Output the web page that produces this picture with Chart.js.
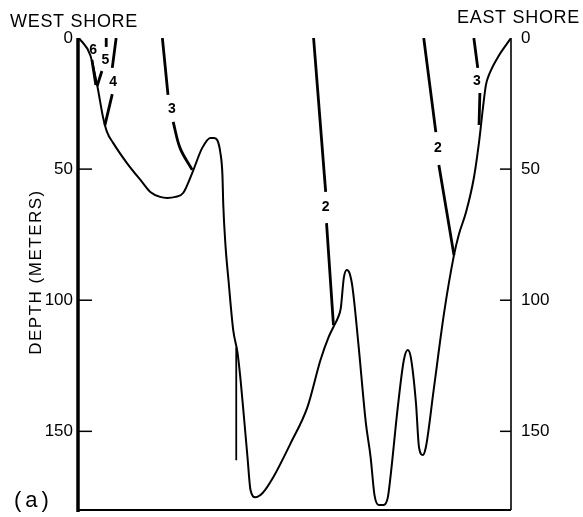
<!DOCTYPE html>
<html>
<head>
<meta charset="utf-8">
<script src="https://cdn.jsdelivr.net/npm/chart.js@4/dist/chart.umd.min.js"></script>
<style>
  body { margin: 0; background: #fff; }
  #wrap { width: 583px; height: 517px; position: relative; }
</style>
</head>
<body>
<div id="wrap"><canvas id="profile"></canvas></div>
<script>
// lake bed profile, distance across lake (0 = west shore, 100 = east shore) vs depth in metres
const bedDistance = [0, 2.6, 4.2, 5.6, 6.5, 7.9, 11.1, 14.8, 16.5, 18.8, 20.4, 22.3, 24.1, 26.2, 28.5, 30.4, 31.3, 32.0, 32.7, 33.2, 33.4, 33.9, 34.6, 35.7, 36.7, 37.4, 38.1, 39.0, 39.7, 40.8, 42.5, 45.0, 49.0, 52.9, 55.9, 57.8, 58.9, 59.9, 60.6, 61.3, 62.0, 62.6, 63.3, 64.7, 66.4, 67.5, 68.4, 69.4, 70.5, 71.5, 72.2, 73.8, 75.2, 76.1, 76.8, 78.0, 78.7, 79.6, 80.3, 82.1, 84.5, 86.8, 87.9, 89.6, 91.4, 92.6, 93.5, 94.2, 94.9, 97.0, 100];
const bedDepth = [0, 6.5, 17.9, 30.5, 35.9, 40.0, 47.7, 55.3, 58.7, 60.6, 61.0, 60.6, 59.1, 51.5, 42.0, 38.1, 38.1, 38.9, 43.5, 52.2, 63.7, 78.9, 92.3, 111.4, 120.1, 130.4, 143.0, 159.8, 172.4, 175.1, 173.5, 167.4, 154.5, 140.7, 122.8, 114.0, 110.2, 106.8, 103.0, 91.5, 88.5, 89.6, 95.0, 117.1, 146.8, 159.8, 174.3, 178.1, 178.1, 175.1, 165.9, 140.7, 122.8, 119.0, 121.7, 139.2, 156.0, 159.0, 156.0, 134.2, 104.9, 82.8, 75.1, 66.4, 53.4, 39.7, 26.7, 17.9, 14.1, 7.2, 0];

// isolines, each split in two pieces around its number: [distance, depth]
const line6 = [[[3.0, 8.4], [3.9, 17.9]]];
const line5 = [[[6.3, 0], [6.3, 3.4]], [[5.3, 12.6], [4.2, 18.3]]];
const line4 = [[[8.6, 0], [7.7, 11.4]], [[7.7, 21.4], [6.0, 33.2]]];
const line3West = [[[19.3, 0], [20.6, 21.7]], [[21.8, 32.0], [23.4, 42.0], [26.2, 50.3]]];
const line2Mid = [[[54.3, 0], [57.1, 58.7]], [[57.3, 70.6], [58.9, 109.5]]];
const line2East = [[[79.8, 0], [82.6, 35.9]], [[83.3, 48.4], [86.8, 82.8]]];
const line3East = [[[91.4, 0], [92.3, 11.4]], [[92.8, 21.0], [92.6, 33.2]]];

const lineLabels = ['6', '5', '4', '3', '2', '2', '3'];
const lineLabelDistance = [3.3, 6.1, 7.9, 21.5, 57.1, 83.1, 92.1];
const lineLabelDepth = [4.8, 8.4, 16.8, 27.3, 64.5, 42.0, 16.6];

// the short vertical marker in the deep basin
const markerDistance = [36.4, 36.4];
const markerDepth = [118, 161];

const depthTicks = [0, 50, 100, 150];

function pts(xs, ys) {
    return xs.map((x, i) => ({ x: x, y: ys[i] }));
}

const datasets = [{
    data: pts(bedDistance, bedDepth),
    borderColor: '#000',
    borderWidth: 2,
    pointRadius: 0,
    cubicInterpolationMode: 'monotone'
}, {
    data: pts(markerDistance, markerDepth),
    borderColor: '#000',
    borderWidth: 1.8,
    pointRadius: 0
}];

[line6, line5, line4, line3West, line2Mid, line2East, line3East].forEach(line => {
    line.forEach(piece => {
        datasets.push({
            data: piece.map(p => ({ x: p[0], y: p[1] })),
            borderColor: '#000',
            borderWidth: 2.8,
            pointRadius: 0,
            tension: 0.35
        });
    });
});

const frame = {
    id: 'frame',
    afterDatasetsDraw(chart) {
        const ctx = chart.ctx;
        const a = chart.chartArea;
        const x = chart.scales.x, y = chart.scales.y;
        ctx.save();
        ctx.strokeStyle = '#000';
        ctx.lineCap = 'butt';

        ctx.lineWidth = 3.5;
        ctx.beginPath(); ctx.moveTo(a.left - 1, a.top); ctx.lineTo(a.left - 1, a.bottom + 2); ctx.stroke();
        ctx.lineWidth = 1.6;
        ctx.beginPath(); ctx.moveTo(a.right, a.top); ctx.lineTo(a.right, a.bottom); ctx.stroke();
        ctx.lineWidth = 2;
        ctx.beginPath(); ctx.moveTo(a.left, a.bottom); ctx.lineTo(a.right, a.bottom); ctx.stroke();

        ctx.lineWidth = 1.5;
        depthTicks.slice(1).forEach(d => {
            const py = y.getPixelForValue(d);
            ctx.beginPath(); ctx.moveTo(a.left, py); ctx.lineTo(a.left + 13, py); ctx.stroke();
            ctx.beginPath(); ctx.moveTo(a.right - 11, py); ctx.lineTo(a.right, py); ctx.stroke();
        });

        ctx.fillStyle = '#000';
        ctx.font = 'bold 14px "Liberation Sans", Arial, sans-serif';
        ctx.textAlign = 'center';
        ctx.textBaseline = 'middle';
        lineLabels.forEach((t, i) => {
            ctx.fillText(t, x.getPixelForValue(lineLabelDistance[i]), y.getPixelForValue(lineLabelDepth[i]));
        });

        ctx.font = '18px "Liberation Sans", Arial, sans-serif';
        ctx.textAlign = 'left';
        ctx.textBaseline = 'alphabetic';
        ctx.letterSpacing = '0.7px';
        ctx.fillText('WEST SHORE', 10, 27);
        ctx.fillText('EAST SHORE', 457, 23);

        ctx.letterSpacing = '4px';
        ctx.font = '22px "Liberation Sans", Arial, sans-serif';
        ctx.fillText('(a)', 14, 507);

        ctx.save();
        ctx.translate(41, 272);
        ctx.rotate(-Math.PI / 2);
        ctx.textAlign = 'center';
        ctx.letterSpacing = '1.5px';
        ctx.font = '17px "Liberation Sans", Arial, sans-serif';
        ctx.fillText('DEPTH (METERS)', 0, 0);
        ctx.restore();
        ctx.restore();
    }
};

function depthAxis(position, width, pad) {
    return {
        type: 'linear',
        position: position,
        reverse: true,
        min: 0,
        max: 180,
        afterBuildTicks(scale) {
            scale.ticks = depthTicks.map(v => ({ value: v }));
        },
        afterFit(scale) {
            scale.width = width;
            scale.paddingTop = 0;
            scale.paddingBottom = 0;
        },
        grid: { display: false, drawTicks: false },
        border: { display: false },
        ticks: {
            padding: pad,
            color: '#000',
            font: { size: 17, family: '"Liberation Sans", Arial, sans-serif' }
        }
    };
}

new Chart(document.getElementById('profile'), {
    type: 'line',
    data: { datasets: datasets },
    options: {
        responsive: true,
        maintainAspectRatio: false,
        animation: false,
        events: [],
        layout: { padding: { top: 38, bottom: 7, left: 0, right: 0 } },
        plugins: { legend: { display: false }, tooltip: { enabled: false } },
        scales: {
            x: { type: 'linear', min: 0, max: 100, display: false },
            y: depthAxis('left', 79, 6),
            y2: depthAxis('right', 72, 10)
        }
    },
    plugins: [frame]
});
</script>
</body>
</html>
